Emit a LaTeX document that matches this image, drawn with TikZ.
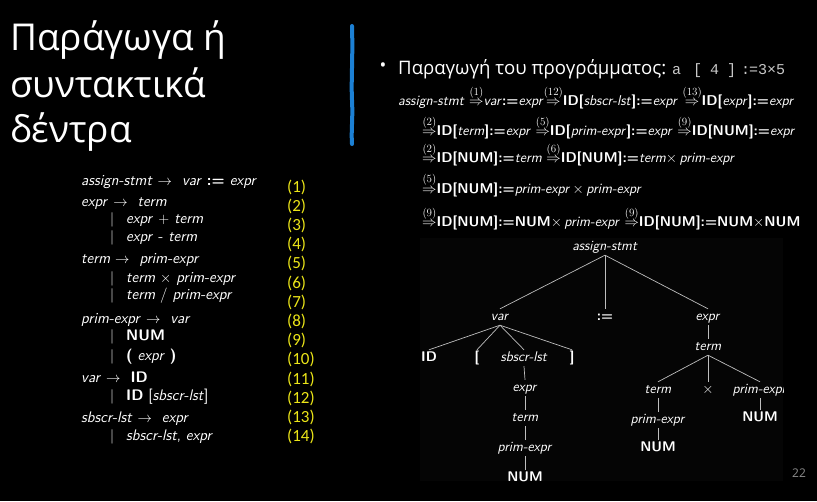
\documentclass[tikz,border=0pt]{standalone}
\usepackage{fontspec}
\newfontfamily\uifont{Open Sans}
\newfontfamily\numfont{Carlito}
\newfontfamily\codefont{Liberation Mono}
\definecolor{slideblue}{RGB}{28,128,212}
\definecolor{ruleyellow}{RGB}{236,230,24}
\definecolor{codegray}{RGB}{200,200,200}
\definecolor{edgegray}{RGB}{190,190,190}
\definecolor{pagegray}{RGB}{140,140,140}
\newcommand\NT[1]{\textit{#1}}
\newcommand\TM[1]{\textbf{#1}}
\newcommand\StepLabel[1]{\hbox{\rmfamily\fontsize{11}{11}\selectfont(#1)}}
\newcommand\Der[1]{$\stackrel{\StepLabel{#1}}{\Rightarrow}$}
\newcommand\Alt{$|$\hspace{12pt}}
\newcommand\Yields{\ $\rightarrow$\ \ }
\tikzset{
  titleline/.style={anchor=base west, inner sep=0pt, text=white,
    font=\uifont\fontsize{37}{40}\selectfont},
  derline/.style={anchor=base west, inner sep=0pt, text=white,
    font=\sffamily\fontsize{14.2}{16}\selectfont},
  ruleline/.style={anchor=base west, inner sep=0pt, text=white,
    font=\sffamily\fontsize{15.3}{17}\selectfont},
  rulenum/.style={anchor=west, inner sep=0pt, text=ruleyellow,
    font=\numfont\fontsize{17}{19}\selectfont},
  treenode/.style={inner sep=1.5pt, text=white, text height=10pt, text depth=3pt,
    font=\sffamily\fontsize{14}{16}\selectfont},
  treeedge/.style={draw=edgegray, line width=0.7pt},
}
\begin{document}
\begin{tikzpicture}[x=1pt, y=-1pt]
\fill[black] (0,0) rectangle (817,501);
\useasboundingbox (0,0) rectangle (817,501);

% title
\node[titleline] (t1) at (10,50) {Παράγωγα ή};
\node[titleline] (t2) at (10,97) {συντακτικά};
\node[titleline] (t3) at (10,142) {δέντρα};

% accent bar
\draw[slideblue, line width=4pt, line cap=round]
  (352,26) .. controls (353,60) and (351,80) .. (352,100)
  .. controls (353,120) and (351,130) .. (352,144);

% bullet heading
\node[inner sep=0pt, text=white, font=\uifont\fontsize{18}{20}\selectfont] (bul) at (383,67) {•};
\node[anchor=base west, inner sep=0pt, text=white, font=\uifont\fontsize{18.6}{20}\selectfont]
  (head) at (398,74) {Παραγωγή του προγράμματος:};
\node[anchor=base west, inner sep=0pt, text=codegray, font=\codefont\fontsize{15}{17}\selectfont]
  (code) at (672,74) {a\kern12pt[\kern8pt4\kern8pt]\kern5pt:\kern-1pt=3×5};

% derivation
\node[derline] (d1) at (398,105) {\NT{assign-stmt} \Der{1}\NT{var}\TM{:=}\NT{expr}\Der{12}\TM{ID[}\NT{sbscr-lst}\TM{]:=}\NT{expr} \Der{13}\TM{ID[}\NT{expr}\TM{]:=}\NT{expr}};
\node[derline] (d2) at (422,135) {\Der{2}\TM{ID[}\NT{term}\TM{]:=}\NT{expr} \Der{5}\TM{ID[}\NT{prim-expr}\TM{]:=}\NT{expr} \Der{9}\TM{ID[NUM]:=}\NT{expr}};
\node[derline] (d3) at (422,162) {\Der{2}\TM{ID[NUM]:=}\NT{term} \Der{6}\TM{ID[NUM]:=}\NT{term}$\times$\,\NT{prim-expr}};
\node[derline] (d4) at (422,193) {$\stackrel{\raisebox{3pt}{\StepLabel{5}}}{\Rightarrow}$\TM{ID[NUM]:=}\NT{prim-expr}\,$\times$\,\NT{prim-expr}};
\node[derline] (d5) at (422,226) {\Der{9}\TM{ID[NUM]:=NUM}$\times$\,\NT{prim-expr} \Der{9}\TM{ID[NUM]:=NUM}$\times$\TM{NUM}};

% grammar rules
\node[ruleline] (g1) at (81,185) {\NT{assign-stmt}\Yields\NT{var} \TM{:=} \NT{expr}};
\node[ruleline] (g2) at (81,206) {\NT{expr}\Yields\NT{term}};
\node[ruleline] (g3) at (110,223) {\Alt\NT{expr} $+$ \NT{term}};
\node[ruleline] (g4) at (110,241) {\Alt\NT{expr} - \NT{term}};
\node[ruleline] (g5) at (81,263) {\NT{term}\Yields\NT{prim-expr}};
\node[ruleline] (g6) at (110,282) {\Alt\NT{term} $\times$ \NT{prim-expr}};
\node[ruleline] (g7) at (110,299) {\Alt\NT{term} / \NT{prim-expr}};
\node[ruleline] (g8) at (81,323) {\NT{prim-expr}\Yields\NT{var}};
\node[ruleline] (g9) at (110,340) {\Alt\TM{NUM}};
\node[ruleline] (g10) at (110,360) {\Alt\TM{(} \NT{expr} \TM{)}};
\node[ruleline] (g11) at (81,382) {\NT{var}\Yields\TM{ID}};
\node[ruleline] (g12) at (110,400) {\Alt\TM{ID} [\NT{sbscr-lst}]};
\node[ruleline] (g13) at (81,422) {\NT{sbscr-lst}\Yields\NT{expr}};
\node[ruleline] (g14) at (110,440) {\Alt\NT{sbscr-lst}, \NT{expr}};

% rule numbers
\foreach \n in {1,...,14}
  \node[rulenum] (r\n) at (287,{187+19.2*(\n-1)}) {(\n)};

% parse tree
\fill[black!98!white] (420,238) rectangle (783,481);
\begin{scope}
\clip (420,238) rectangle (783,481);
\node[treenode] (as) at (605,247) {\NT{assign-stmt}};
\node[treenode] (var) at (500,317) {\NT{var}};
\node[treenode] (asg) at (605,317) {\TM{:=}};
\node[treenode] (ex) at (708,317) {\NT{expr}};
\node[treenode] (tm) at (708,347) {\NT{term}};
\node[treenode] (id) at (429,358) {\TM{ID}};
\node[treenode] (lb) at (477,358) {\TM{[}};
\node[treenode] (sl) at (524,358) {\NT{sbscr-lst}};
\node[treenode] (rb) at (572,358) {\TM{]}};
\node[treenode] (sx) at (525,388) {\NT{expr}};
\node[treenode] (st) at (525,418) {\NT{term}};
\node[treenode] (sp) at (525,448) {\NT{prim-expr}};
\node[treenode] (sn) at (525,478) {\TM{NUM}};
\node[treenode] (t2) at (658,390) {\NT{term}};
\node[treenode] (tx) at (708,390) {$\times$};
\node[treenode] (p2) at (760,390) {\NT{prim-expr}};
\node[treenode] (p3) at (658,420) {\NT{prim-expr}};
\node[treenode] (n3) at (658,448) {\TM{NUM}};
\node[treenode] (n2) at (760,418) {\TM{NUM}};
\draw[treeedge] (as.south) -- (var.north);
\draw[treeedge] (as.south) -- (asg.north);
\draw[treeedge] (as.south) -- (ex.north);
\draw[treeedge] (ex.south) -- (tm.north);
\draw[treeedge] (var.south) -- (id.north);
\draw[treeedge] (var.south) -- (lb.north);
\draw[treeedge] (var.south) -- (sl.north);
\draw[treeedge] (var.south) -- (rb.north);
\draw[treeedge] (sl.south) -- (sx.north);
\draw[treeedge] (sx.south) -- (st.north);
\draw[treeedge] (st.south) -- (sp.north);
\draw[treeedge] (sp.south) -- (sn.north);
\draw[treeedge] (tm.south) -- (t2.north);
\draw[treeedge] (tm.south) -- (tx.north);
\draw[treeedge] (tm.south) -- (p2.north);
\draw[treeedge] (t2.south) -- (p3.north);
\draw[treeedge] (p3.south) -- (n3.north);
\draw[treeedge] (p2.south) -- (n2.north);
\end{scope}

% page number
\node[inner sep=0pt, text=pagegray, font=\uifont\fontsize{12}{14}\selectfont] (pg) at (799,473) {22};
\end{tikzpicture}
\end{document}
